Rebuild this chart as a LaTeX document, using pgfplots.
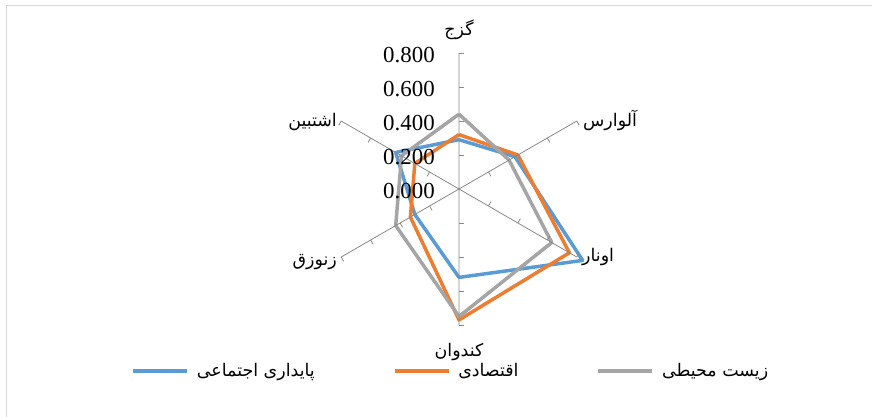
\documentclass[border=0pt]{standalone}
\usepackage{fontspec}
\setmainfont{Liberation Serif}
\newfontfamily\arabicfont[Script=Arabic]{DejaVu Sans}
\TeXXeTstate=1
\usepackage{pgfplots}
\pgfplotsset{compat=1.18}
\usepgfplotslibrary{polar}
\definecolor{serBlue}{HTML}{5B9BD5}
\definecolor{serOrange}{HTML}{ED7D31}
\definecolor{serGray}{HTML}{A5A5A5}
\definecolor{spoke}{HTML}{898989}
\definecolor{frameGray}{HTML}{D9D9D9}
\newcommand{\fa}[1]{{\arabicfont\fontsize{17.5}{20}\selectfont\beginR #1\endR}}

\begin{document}
\begin{tikzpicture}
\useasboundingbox (-459bp,-228bp) rectangle (413bp,189bp);
\draw[frameGray, line width=1.5bp] (-452.5bp,183.5bp) rectangle (430bp,-240bp);
\begin{polaraxis}[
  axis on top,
  at={(0,0)}, anchor=origin,
  scale only axis, width=272bp, height=272bp,
  xmin=90, xmax=450, ymin=0, ymax=0.8,
  xtick={90,150,210,270,330,390}, xticklabels={},
  ytick={0,0.2,0.4,0.6,0.8},
  xmajorgrids=true, ymajorgrids=false,
  major grid style={spoke, line width=0.8bp},
  axis line style={draw=none},
  major tick length=0pt,
  clip=false,
  yticklabel style={font=\fontsize{23}{23}\selectfont, anchor=east, inner sep=0pt, xshift=-24bp, yshift=-2bp},
  /pgf/number format/.cd, fixed, fixed zerofill, precision=3, assume math mode=true,
  /pgfplots/.cd,
  legend columns=3,
  legend style={draw=none, at={(0.47,-0.169)}, anchor=center,
    /tikz/every even column/.append style={column sep=76bp}},
  legend image code/.code={\draw[#1, line width=3.5bp] (0bp,0bp) -- (54bp,0bp); \path (60bp,0bp);},
]
\addplot[serBlue, line width=3.5bp, line join=round] coordinates {
  (90,0.29) (390,0.38) (330,0.84) (270,0.52) (210,0.30) (150,0.43) (90,0.29)};
\addlegendentry{\fa{پایداری اجتماعی}}
\addplot[serOrange, line width=3.5bp, line join=round] coordinates {
  (90,0.32) (390,0.40) (330,0.75) (270,0.77) (210,0.33) (150,0.30) (90,0.32)};
\addlegendentry{\fa{اقتصادی}}
\addplot[serGray, line width=3.5bp, line join=round] coordinates {
  (90,0.44) (390,0.34) (330,0.63) (270,0.75) (210,0.43) (150,0.39) (90,0.44)};
\addlegendentry{\fa{زیست محیطی}}
\end{polaraxis}
% small ticks along each spoke
\foreach \a/\d in {90/0,30/300,330/60,270/0,210/300,150/240}
  \foreach \r in {0.2,0.4,0.6,0.8}
    \draw[spoke, line width=0.8bp] (\a:{\r*170bp}) -- ++(\d:5bp);
% category labels
\node[inner sep=0pt] at (0bp,159bp) {\fa{گزج}};
\node[inner sep=0pt, anchor=west] at (124bp,69bp) {\fa{آلوارس}};
\node[inner sep=0pt, anchor=west] at (123bp,-68bp) {\fa{اونار}};
\node[inner sep=0pt] at (0bp,-163bp) {\fa{کندوان}};
\node[inner sep=0pt, anchor=east] at (-122bp,-73bp) {\fa{زنوزق}};
\node[inner sep=0pt, anchor=east] at (-122bp,67bp) {\fa{اشتبین}};
\end{tikzpicture}
\end{document}
